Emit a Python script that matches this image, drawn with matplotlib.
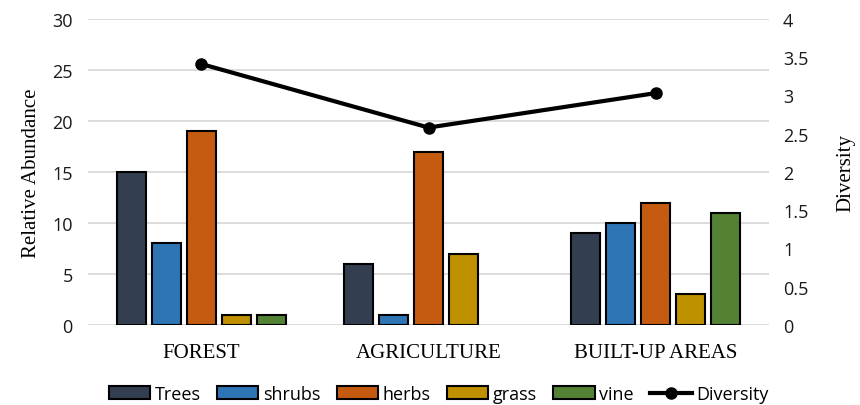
import numpy as np
import matplotlib.pyplot as plt

categories = ['FOREST', 'AGRICULTURE', 'BUILT-UP AREAS']
series = ['Trees', 'shrubs', 'herbs', 'grass', 'vine']
trees = [15, 6, 9]
shrubs = [8, 1, 10]
herbs = [19, 17, 12]
grass = [1, 7, 3]
vine = [1, 0, 11]
diversity = [3.41, 2.58, 3.03]

colors = ['#333f50', '#2e75b6', '#c55a11', '#bf9000', '#548235']
sans = ['Open Sans', 'DejaVu Sans']
serif = ['Liberation Serif', 'DejaVu Serif']

fig = plt.figure(figsize=(8.6, 4.06), dpi=100)
ax = fig.add_axes([0.1023, 0.197, 0.792, 0.754])
ax2 = ax.twinx()

x = np.arange(len(categories))
w = 0.128
pitch = 0.154
handles = []
for i, (name, vals) in enumerate(zip(series, [trees, shrubs, herbs, grass, vine])):
    pos = x + (i - 2) * pitch
    v = np.array(vals, dtype=float)
    keep = v > 0
    b = ax.bar(pos[keep], v[keep], width=w, color=colors[i], edgecolor='black',
               linewidth=1.5, zorder=3, label=name)
    handles.append(b)

ln, = ax2.plot(x, diversity, color='black', linewidth=3, marker='o', markersize=8,
               zorder=4, label='Diversity')
handles.append(ln)

ax.set_xlim(-0.5, 2.5)
ax.set_ylim(0, 30)
ax.set_yticks(range(0, 31, 5))
ax2.set_ylim(0, 4)
ax2.set_yticks(np.arange(0, 4.01, 0.5))
ax2.set_yticklabels(['0', '0.5', '1', '1.5', '2', '2.5', '3', '3.5', '4'])

ax.yaxis.grid(True, color='#d9d9d9', linewidth=1.3, zorder=0)
ax.set_axisbelow(True)
for a in (ax, ax2):
    for s in a.spines.values():
        s.set_visible(False)
    a.tick_params(length=0)
ax.tick_params(axis='y', labelsize=13, pad=11)
ax2.tick_params(axis='y', labelsize=13, pad=10)
for lab in ax.get_yticklabels() + ax2.get_yticklabels():
    lab.set_family(sans)
    lab.set_color('#1a1a1a')

ax.set_xticks(x)
ax.set_xticklabels(categories, family=serif, fontsize=15)
ax.tick_params(axis='x', pad=13)

ax.set_ylabel('Relative Abundance', family=serif, fontsize=15, labelpad=8)
ax2.set_ylabel('Diversity', family=serif, fontsize=15, labelpad=20)

fig.legend(handles=handles, labels=series + ['Diversity'], loc='lower center',
           ncol=6, bbox_to_anchor=(0.51, -0.035), frameon=False,
           prop={'family': sans, 'size': 13}, handlelength=2.3,
           handleheight=0.75, handletextpad=0.25, columnspacing=0.9)

fig.savefig('out.png', dpi=100)
